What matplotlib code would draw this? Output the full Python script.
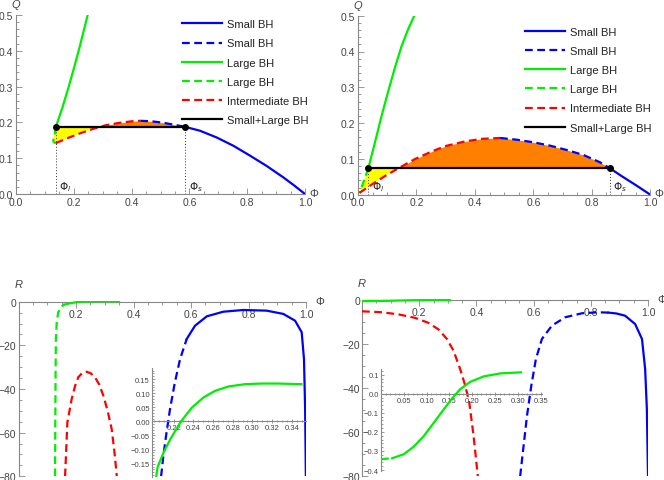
import numpy as np
import matplotlib
matplotlib.use("Agg")
import matplotlib.pyplot as plt
from matplotlib.ticker import MultipleLocator, FixedLocator, FuncFormatter

plt.rcParams["font.family"] = ["Liberation Sans", "DejaVu Sans"]
plt.rcParams["mathtext.fontset"] = "dejavusans"

# ---- top-left: Q(Phi), first parameter set ----
tl_green_phi = [0.138, 0.160, 0.180, 0.200, 0.220, 0.248]
tl_green_q = [0.1877, 0.240, 0.293, 0.350, 0.410, 0.500]
tl_green_dash_phi = [0.138, 0.135, 0.131, 0.129, 0.130, 0.134, 0.138]
tl_green_dash_q = [0.1877, 0.172, 0.158, 0.150, 0.1455, 0.143, 0.1422]
tl_red_phi = [0.138, 0.175, 0.220, 0.267, 0.310, 0.360, 0.400, 0.430]
tl_red_q = [0.1422, 0.155, 0.169, 0.182, 0.192, 0.199, 0.203, 0.2045]
tl_blue_dash_phi = [0.430, 0.470, 0.510, 0.550, 0.585]
tl_blue_dash_q = [0.2045, 0.203, 0.199, 0.193, 0.1877]
tl_blue_phi = [0.585, 0.637, 0.694, 0.752, 0.810, 0.867, 0.924, 0.959, 1.0]
tl_blue_q = [0.1877, 0.1766, 0.158, 0.1348, 0.107, 0.0785, 0.047, 0.026, 0.0]
tl_q_coex = 0.1877
tl_phi_l, tl_phi_s = 0.138, 0.585

# ---- top-right: Q(Phi), second parameter set ----
tr_green_phi = [0.0353, 0.058, 0.081, 0.104, 0.1266, 0.1495, 0.172, 0.1926]
tr_green_q = [0.0737, 0.146, 0.221, 0.2905, 0.356, 0.416, 0.463, 0.500]
tr_green_dash_phi = [0.0353, 0.025, 0.015, 0.005]
tr_green_dash_q = [0.0737, 0.050, 0.027, 0.005]
tr_red_phi = [0.005, 0.050, 0.094, 0.134, 0.196, 0.253, 0.300, 0.367, 0.424, 0.486]
tr_red_q = [0.005, 0.030, 0.053, 0.072, 0.100, 0.121, 0.136, 0.149, 0.156, 0.1585]
tr_blue_dash_phi = [0.486, 0.543, 0.600, 0.657, 0.714, 0.771, 0.828, 0.862]
tr_blue_dash_q = [0.1585, 0.1536, 0.1464, 0.137, 0.1249, 0.111, 0.0905, 0.0737]
tr_blue_phi = [0.862, 0.900, 0.950, 1.0]
tr_blue_q = [0.0737, 0.053, 0.027, 0.0]
tr_q_coex = 0.0737
tr_phi_l, tr_phi_s = 0.0353, 0.862

# ---- bottom-left: R(Phi) ----
bl_green_dash_phi = [0.127, 0.128, 0.129, 0.130, 0.133, 0.138, 0.150, 0.160]
bl_green_dash_r = [-80, -55.2, -32.3, -17.1, -9.5, -4.9, -2.1, -1.3]
bl_green_phi = [0.160, 0.185, 0.2037, 0.2099, 0.2167, 0.2275, 0.2386, 0.2503,
                0.262, 0.2756, 0.2925, 0.3094, 0.326, 0.3498]
bl_green_r = [-1.3, -0.6, -0.162, -0.109, -0.0625, 0.0, 0.049, 0.0847,
              0.108, 0.1235, 0.1317, 0.134, 0.134, 0.1317]
bl_red_phi = [0.162, 0.170, 0.185, 0.197, 0.208, 0.222, 0.237, 0.251, 0.266,
              0.281, 0.295, 0.310, 0.324, 0.333, 0.342]
bl_red_r = [-80, -55.3, -44.6, -38.5, -34.6, -32.6, -32.1, -32.8, -34.6,
            -38.0, -43.0, -50.0, -58.3, -68.0, -80]
bl_blue_dash_phi = [0.496, 0.504, 0.515, 0.527, 0.544, 0.562, 0.585]
bl_blue_dash_r = [-80, -70.5, -59.8, -49.2, -36.9, -26.3, -17.1]
bl_blue_phi = [0.585, 0.614, 0.655, 0.712, 0.782, 0.863, 0.921, 0.962, 0.985,
               0.993, 0.997, 0.9995]
bl_blue_r = [-17.1, -11.0, -6.7, -4.6, -3.8, -4.1, -5.6, -8.7, -14.0,
             -26.3, -49.2, -80]

# ---- bottom-right: R(Phi) ----
br_green_dash_phi = [0.0, 0.0245]
br_green_dash_r = [-0.343, -0.338]
br_green_phi = [0.0245, 0.050, 0.072, 0.094, 0.116, 0.138, 0.156, 0.174,
                0.196, 0.2255, 0.262, 0.307]
br_green_r = [-0.338, -0.317, -0.277, -0.221, -0.151, -0.0805, -0.024, 0.025,
              0.063, 0.0915, 0.107, 0.1125]
br_red_phi = [0.0, 0.0696, 0.128, 0.186, 0.233, 0.268, 0.297, 0.320, 0.343,
              0.361, 0.375, 0.390, 0.405]
br_red_r = [-5.0, -5.45, -6.4, -8.0, -10.3, -13.3, -17.6, -22.9, -31.2,
            -38.8, -46.4, -61.5, -80]
br_blue_dash_phi = [0.553, 0.565, 0.577, 0.592, 0.608, 0.629, 0.664, 0.711,
                    0.769, 0.827, 0.862]
br_blue_dash_r = [-80, -66.1, -52.4, -38.8, -26.7, -17.6, -11.5, -7.7,
                  -5.9, -5.45, -5.6]
br_blue_phi = [0.862, 0.890, 0.920, 0.955, 0.979, 0.990, 0.996, 1.0]
br_blue_r = [-5.6, -6.0, -7.0, -10.8, -17.6, -31.2, -49.4, -80]

legend_labels = ["Small BH", "Small BH", "Large BH", "Large BH",
                 "Intermediate BH", "Small+Large BH"]

BLUE, GREEN, RED = "#0000ff", "#00ee00", "#ff0000"
ORANGE, YELLOW = "#ff8000", "#ffff00"
AXC, TXT = "#888888", "#444444"
LW = 1.6
DASH = (0, (3.5, 2.0))

W, H = 664, 481
fig = plt.figure(figsize=(W / 100, H / 100), dpi=100)


def box(x0, x1, y0, y1):
    # pixel box -> figure fraction
    return [x0 / W, 1 - y1 / H, (x1 - x0) / W, (y1 - y0) / H]


def style(ax, size=7.5):
    for s in ["top", "right"]:
        ax.spines[s].set_visible(False)
    for s in ["left", "bottom"]:
        ax.spines[s].set_color(AXC)
        ax.spines[s].set_linewidth(0.8)
    ax.tick_params(which="both", colors=AXC, labelcolor=TXT, labelsize=size, width=0.6)
    ax.tick_params(which="major", length=4)
    ax.tick_params(which="minor", length=2.2)
    ax.patch.set_alpha(0)


def q_panel(ax, g_phi, g_q, gd_phi, gd_q, r_phi, r_q, bd_phi, bd_q, b_phi, b_q,
            q, phi_l, phi_s, legend_anchor):
    style(ax)
    ax.set_xlim(0, 1)
    ax.set_ylim(0, 0.5)
    ax.xaxis.set_major_locator(MultipleLocator(0.2))
    ax.xaxis.set_minor_locator(MultipleLocator(0.05))
    ax.yaxis.set_major_locator(MultipleLocator(0.1))
    ax.yaxis.set_minor_locator(MultipleLocator(0.02))
    f1 = FuncFormatter(lambda v, p: f"{v:.1f}")
    ax.xaxis.set_major_formatter(f1)
    ax.yaxis.set_major_formatter(f1)
    ax.tick_params(which="both", direction="in", pad=2)

    # equal-area regions
    r_phi, r_q = np.array(r_phi), np.array(r_q)
    cross = np.interp(q, r_q, r_phi)
    below = r_q < q
    ax.fill(np.concatenate([gd_phi, r_phi[below], [cross]]),
            np.concatenate([gd_q, r_q[below], [q]]), color=YELLOW, lw=0, zorder=1)
    c_phi = np.concatenate([r_phi, bd_phi])
    c_q = np.concatenate([r_q, bd_q])
    ax.fill_between(c_phi, c_q, q, where=c_q >= q, interpolate=True,
                    color=ORANGE, lw=0, zorder=1)

    h1, = ax.plot(b_phi, b_q, color=BLUE, lw=LW, zorder=3)
    h2, = ax.plot(bd_phi, bd_q, color=BLUE, lw=LW, ls=DASH, zorder=3)
    h3, = ax.plot(g_phi, g_q, color=GREEN, lw=LW, zorder=3)
    h4, = ax.plot(gd_phi, gd_q, color=GREEN, lw=LW, ls=DASH, zorder=3)
    h5, = ax.plot(r_phi, r_q, color=RED, lw=LW, ls=DASH, zorder=3)
    h6, = ax.plot([phi_l, phi_s], [q, q], color="black", lw=LW, zorder=4)
    ax.plot([phi_l, phi_s], [q, q], "o", color="black", ms=4, zorder=5)
    for p, lab in [(phi_l, r"$\Phi_l$"), (phi_s, r"$\Phi_s$")]:
        ax.plot([p, p], [0, q], color="#333333", lw=0.7, ls=(0, (1, 2)), zorder=2)
        ax.text(p + 0.012, 0.004, lab, fontsize=7.5, color="#222222",
                ha="left", va="bottom")

    ax.legend([h1, h2, h3, h4, h5, h6], legend_labels, loc="upper left",
              bbox_to_anchor=legend_anchor, frameon=False, fontsize=8,
              handlelength=3.6, handletextpad=0.5, labelspacing=0.82,
              borderpad=0, borderaxespad=0, labelcolor="#222222")
    ax.annotate("Q", xy=(0, 1), xycoords="axes fraction", xytext=(0, 4),
                textcoords="offset points", ha="center", va="bottom",
                fontsize=8, style="italic", color=TXT)
    ax.annotate("Φ", xy=(1, 0), xycoords="axes fraction", xytext=(3, 1),
                textcoords="offset points", ha="left", va="center",
                fontsize=8, color=TXT, annotation_clip=False)


def r_panel(ax):
    style(ax)
    ax.set_xlim(0, 1)
    ax.set_ylim(-80, 0.5)
    ax.spines["bottom"].set_position(("data", 0))
    ax.spines["left"].set_bounds(-80, 0)
    ax.xaxis.set_major_locator(MultipleLocator(0.2))
    ax.xaxis.set_minor_locator(MultipleLocator(0.05))
    ax.yaxis.set_major_locator(MultipleLocator(20))
    ax.yaxis.set_minor_locator(MultipleLocator(5))
    ax.xaxis.set_major_formatter(FuncFormatter(
        lambda v, p: "" if abs(v) < 1e-9 else f"{v:.1f}"))
    ax.yaxis.set_major_formatter(FuncFormatter(
        lambda v, p: f"{v:.0f}".replace("-", "\u2212")))
    ax.tick_params(axis="x", which="both", direction="out", pad=1)
    ax.tick_params(axis="y", which="both", direction="in", pad=1.5)
    ax.annotate("R", xy=(0, 1), xycoords="axes fraction", xytext=(0, 8),
                textcoords="offset points", ha="center", va="bottom",
                fontsize=8, style="italic", color=TXT)
    ax.annotate("Φ", xy=(1, 1), xycoords="axes fraction", xytext=(7, 0),
                textcoords="offset points", ha="left", va="center",
                fontsize=8, color=TXT, annotation_clip=False)


def inset_style(ax, xlim, ylim, xticks, xminor, ymajor, yminor, yfmt):
    style(ax, size=5.5)
    ax.set_xlim(*xlim)
    ax.set_ylim(*ylim)
    ax.spines["bottom"].set_position(("data", 0))
    ax.xaxis.set_major_locator(FixedLocator(xticks))
    ax.xaxis.set_minor_locator(MultipleLocator(xminor))
    ax.yaxis.set_major_locator(MultipleLocator(ymajor))
    ax.yaxis.set_minor_locator(MultipleLocator(yminor))
    ax.xaxis.set_major_formatter(FuncFormatter(lambda v, p: f"{v:.2f}"))
    ax.yaxis.set_major_formatter(FuncFormatter(
        lambda v, p: (yfmt % v).replace("-", "\u2212") if abs(v) > 1e-9 else yfmt % 0))
    ax.tick_params(which="major", length=2.5)
    ax.tick_params(which="minor", length=1.5)
    ax.tick_params(axis="x", which="both", direction="inout", pad=1)
    ax.tick_params(axis="y", which="both", direction="in", pad=1.5)


# top-left
ax1 = fig.add_axes(box(16, 305, 16, 195))
q_panel(ax1, tl_green_phi, tl_green_q, tl_green_dash_phi, tl_green_dash_q,
        tl_red_phi, tl_red_q, tl_blue_dash_phi, tl_blue_dash_q,
        tl_blue_phi, tl_blue_q, tl_q_coex, tl_phi_l, tl_phi_s, (0.574, 0.976))

# top-right
ax2 = fig.add_axes(box(358, 650.3, 16.7, 195.7))
q_panel(ax2, tr_green_phi, tr_green_q, tr_green_dash_phi, tr_green_dash_q,
        tr_red_phi, tr_red_q, tr_blue_dash_phi, tr_blue_dash_q,
        tr_blue_phi, tr_blue_q, tr_q_coex, tr_phi_l, tr_phi_s, (0.570, 0.937))

# bottom-left
ax3 = fig.add_axes(box(18.5, 306, 301.6, 477.3))
r_panel(ax3)
ax3.plot(bl_green_phi, bl_green_r, color=GREEN, lw=LW, zorder=3)
ax3.plot(bl_green_dash_phi, bl_green_dash_r, color=GREEN, lw=LW, ls=DASH, zorder=3)
ax3.plot(bl_red_phi, bl_red_r, color=RED, lw=LW, ls=DASH, zorder=3)
ax3.plot(bl_blue_dash_phi, bl_blue_dash_r, color=BLUE, lw=LW, ls=DASH, zorder=3)
ax3.plot(bl_blue_phi, bl_blue_r, color=BLUE, lw=LW, zorder=3)

ins3 = fig.add_axes(box(152, 306, 369, 478))
inset_style(ins3, (0.198, 0.3545), (-0.197, 0.189),
            [0.22, 0.24, 0.26, 0.28, 0.30, 0.32, 0.34], 0.005, 0.05, 0.01, "%.2f")
ins3.plot(bl_green_phi, bl_green_r, color=GREEN, lw=LW, zorder=3)

# bottom-right
ax4 = fig.add_axes(box(362, 648, 300.2, 477.3))
r_panel(ax4)
ax4.plot(br_green_phi, br_green_r, color=GREEN, lw=LW, zorder=3)
ax4.plot(br_green_dash_phi, br_green_dash_r, color=GREEN, lw=LW, ls=DASH, zorder=3)
ax4.plot(br_red_phi, br_red_r, color=RED, lw=LW, ls=DASH, zorder=3)
ax4.plot(br_blue_dash_phi, br_blue_dash_r, color=BLUE, lw=LW, ls=DASH, zorder=3)
ax4.plot(br_blue_phi, br_blue_r, color=BLUE, lw=LW, zorder=3)

ins4 = fig.add_axes(box(381, 542, 370, 472))
inset_style(ins4, (0, 0.353), (-0.405, 0.13),
            [0.05, 0.10, 0.15, 0.20, 0.25, 0.30, 0.35], 0.01, 0.1, 0.02, "%.1f")
ins4.plot(br_green_phi, br_green_r, color=GREEN, lw=LW, zorder=3)
ins4.plot(br_green_dash_phi, br_green_dash_r, color=GREEN, lw=LW, ls=DASH, zorder=3)

fig.savefig("out.png", dpi=100, facecolor="white")
